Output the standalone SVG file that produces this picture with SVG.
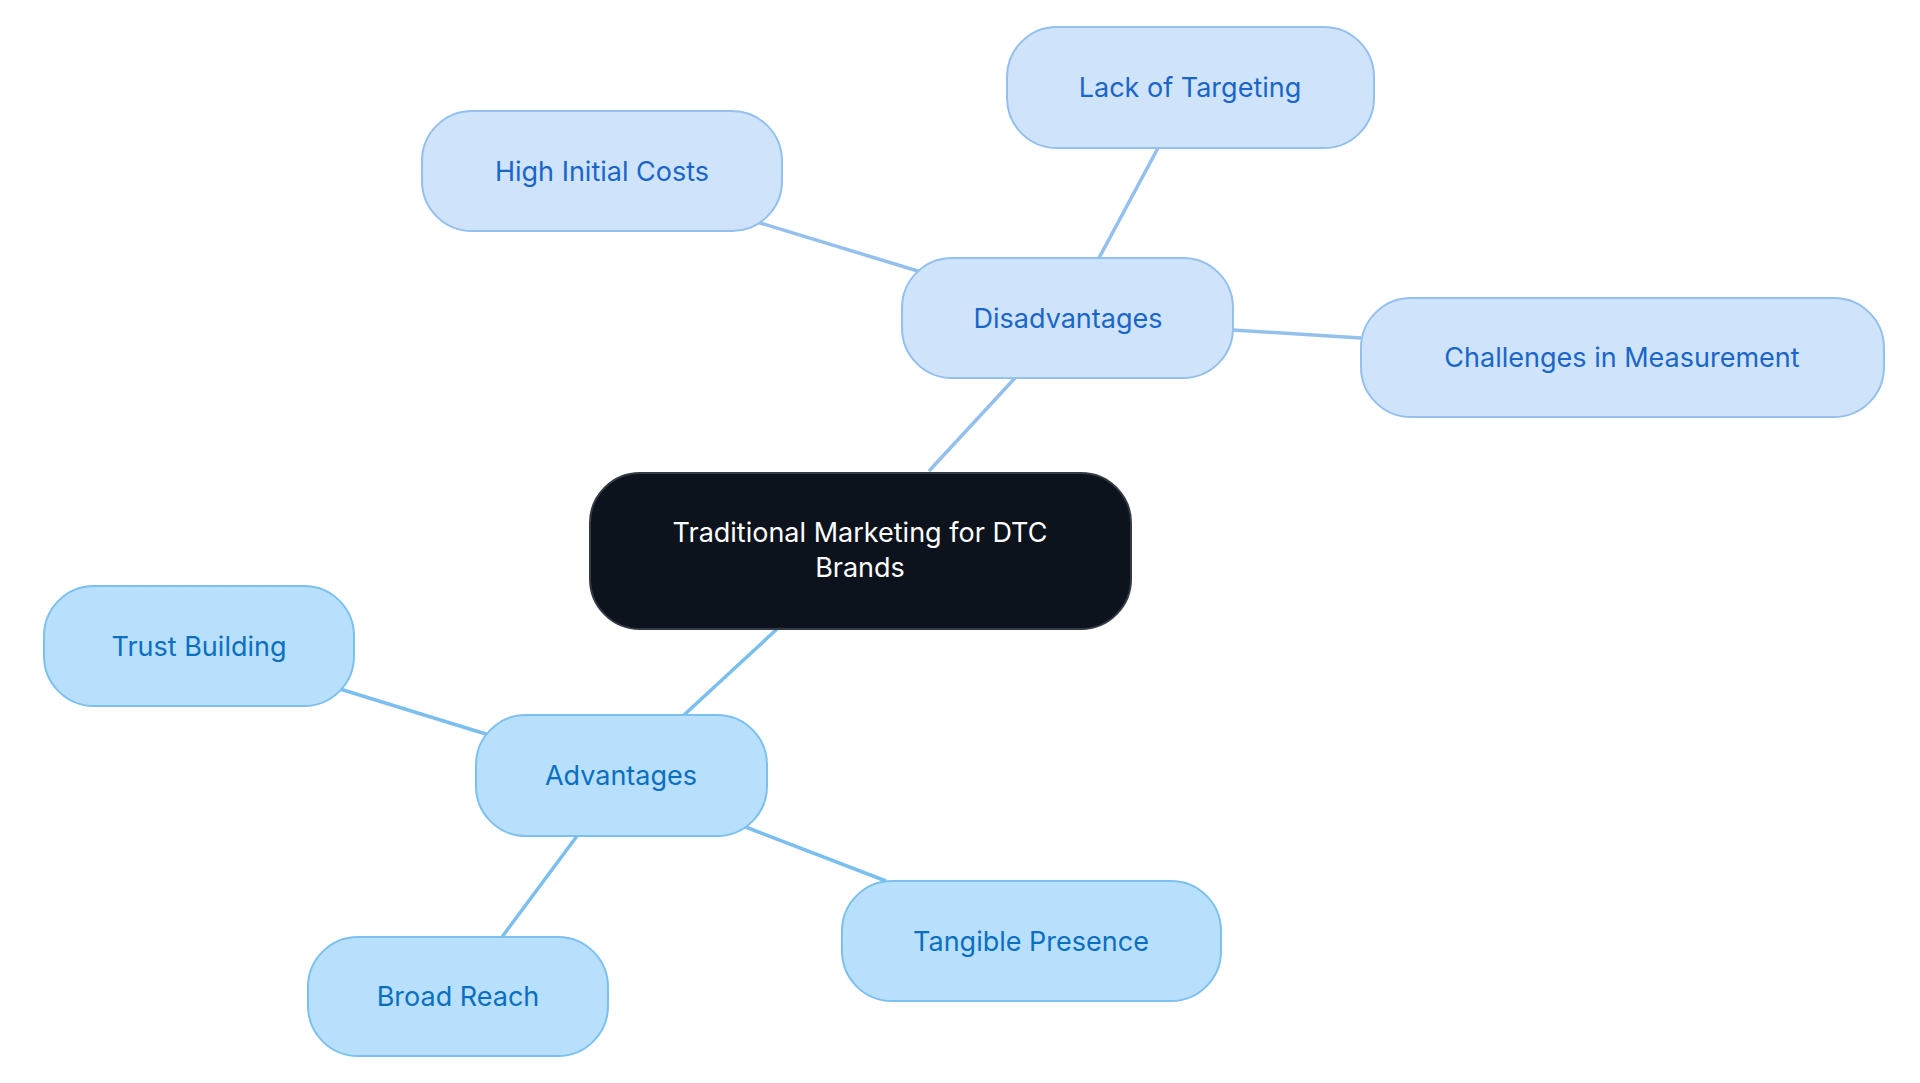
<svg xmlns="http://www.w3.org/2000/svg" width="1920" height="1083" viewBox="0 0 1920 1083">
<style>
text{font-family:Inter,"Noto Sans",sans-serif;font-size:27px;text-anchor:middle;dominant-baseline:central}
.d rect{fill:#cfe3fb;stroke:#94c0ee;stroke-width:2}
.d text{fill:#1a66c8}
.a rect{fill:#b8e0fd;stroke:#7cc0ef;stroke-width:2}
.a text{fill:#0b6fc0}
.c rect{fill:#0d131c;stroke:#333a44;stroke-width:2}
.c text{fill:#fff}
.ed{stroke:#94c0ee;stroke-width:3.5;fill:none}
.ea{stroke:#7bbfee;stroke-width:3.5;fill:none}
</style>
<rect width="1920" height="1083" fill="#fff"/>
<g id="connectors">
<line class="ed" x1="929" y1="471" x2="1015" y2="378"/>
<line class="ed" x1="1099" y1="258" x2="1158" y2="148"/>
<line class="ed" x1="921" y1="272" x2="757" y2="222"/>
<line class="ed" x1="1233" y1="330" x2="1361" y2="338"/>
<line class="ea" x1="777" y1="629" x2="684" y2="715"/>
<line class="ea" x1="489" y1="735" x2="340" y2="689"/>
<line class="ea" x1="577" y1="836" x2="502" y2="937"/>
<line class="ea" x1="743" y1="826" x2="886" y2="881"/>
</g>
<g id="center" class="c"><rect x="590" y="473" width="541" height="156" rx="50"/><text x="860" y="532">Traditional Marketing for DTC</text><text x="860" y="567">Brands</text></g>
<g id="disadvantages" class="d"><rect x="902" y="258" width="331" height="120" rx="50"/><text x="1068" y="318">Disadvantages</text></g>
<g id="lack" class="d"><rect x="1007" y="27" width="367" height="121" rx="50"/><text x="1190" y="87">Lack of Targeting</text></g>
<g id="high" class="d"><rect x="422" y="111" width="360" height="120" rx="50"/><text x="602" y="171">High Initial Costs</text></g>
<g id="challenges" class="d"><rect x="1361" y="298" width="523" height="119" rx="50"/><text x="1622" y="357">Challenges in Measurement</text></g>
<g id="advantages" class="a"><rect x="476" y="715" width="291" height="121" rx="50"/><text x="621" y="775">Advantages</text></g>
<g id="trust" class="a"><rect x="44" y="586" width="310" height="120" rx="50"/><text x="199" y="646">Trust Building</text></g>
<g id="broad" class="a"><rect x="308" y="937" width="300" height="119" rx="50"/><text x="458" y="996">Broad Reach</text></g>
<g id="tangible" class="a"><rect x="842" y="881" width="379" height="120" rx="50"/><text x="1031" y="941">Tangible Presence</text></g>
</svg>
